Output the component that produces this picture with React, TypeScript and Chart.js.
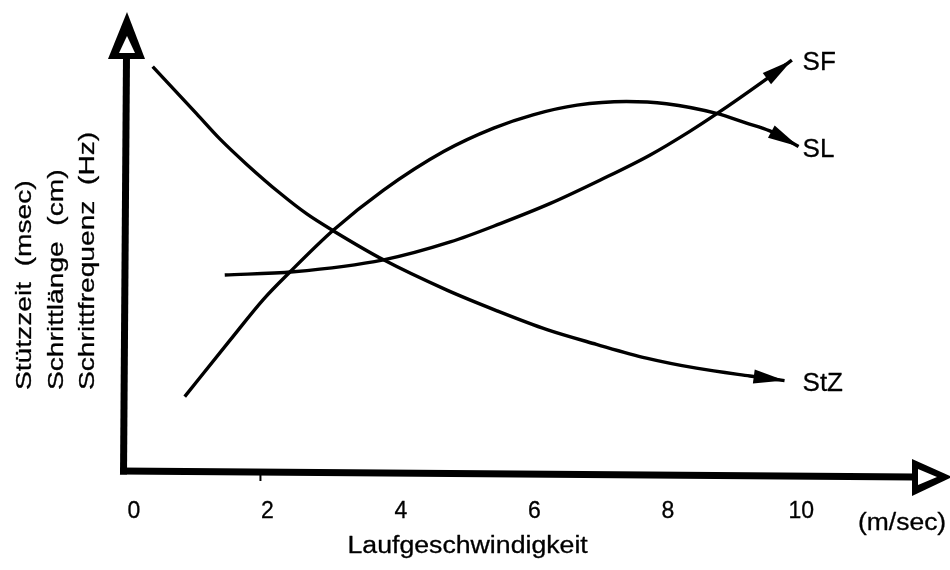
import React, { useEffect, useRef } from "react";
import { Chart, registerables } from "chart.js";

Chart.register(...registerables);

// Laufgeschwindigkeit (m/sec) tick values
const xTickValues = [0, 2, 4, 6, 8, 10];

// Stützzeit (StZ)
const stzSpeed = [0.28, 0.94, 1.29, 1.69, 2.19, 2.59, 2.99, 3.74, 4.69, 5.44, 6.19, 6.93, 7.68, 8.43, 9.23, 9.75];
const stzValue = [88.1, 77.8, 72.3, 66.8, 60.5, 56.0, 52.3, 46.0, 39.4, 34.9, 30.8, 27.6, 24.6, 22.4, 20.7, 19.7];

// Schrittlänge (SL)
const slSpeed = [0.76, 1.44, 1.94, 2.34, 2.99, 3.74, 4.64, 5.39, 5.98, 6.64, 7.38, 7.98, 8.73, 9.18, 9.53, 9.96];
const slValue = [16.2, 28.5, 37.4, 43.4, 52.5, 61.2, 69.6, 74.7, 77.6, 79.7, 80.5, 80.0, 77.9, 75.8, 74.1, 70.7];

// Schrittfrequenz (SF)
const sfSpeed = [1.36, 2.39, 3.74, 4.74, 5.49, 6.24, 6.99, 7.73, 8.33, 8.73, 9.43, 9.86];
const sfValue = [42.7, 43.4, 46.0, 49.9, 53.9, 58.3, 63.4, 68.8, 74.0, 77.8, 84.9, 89.5];

const seriesNames = ["StZ", "SL", "SF"];
const yTitleLines = ["Stützzeit  (msec)", "Schrittlänge  (cm)", "Schrittfrequenz  (Hz)"];
const xTitle = "Laufgeschwindigkeit";
const xUnit = "(m/sec)";

const FONT = '"Liberation Sans", Arial, Helvetica, sans-serif';
const TEXT_WEIGHT = 0.3;

function toPoints(xs: number[], ys: number[]) {
  return xs.map((x, i) => ({ x, y: ys[i] }));
}

function fillPolygon(ctx: CanvasRenderingContext2D, pts: number[][], color: string) {
  ctx.beginPath();
  ctx.moveTo(pts[0][0], pts[0][1]);
  for (let i = 1; i < pts.length; i++) ctx.lineTo(pts[i][0], pts[i][1]);
  ctx.closePath();
  ctx.fillStyle = color;
  ctx.fill();
}

// Lettering of the axis titles is set wide: the glyphs are widened along the text direction
function drawText(
  ctx: CanvasRenderingContext2D,
  text: string,
  x: number,
  y: number,
  size: number,
  stretch: number,
  align: CanvasTextAlign,
  baseline: CanvasTextBaseline,
  vertical = false
) {
  ctx.save();
  ctx.translate(x, y);
  if (vertical) ctx.rotate(-Math.PI / 2);
  ctx.scale(stretch, 1);
  ctx.font = `${size}px ${FONT}`;
  ctx.fillStyle = "#000";
  ctx.strokeStyle = "#000";
  ctx.lineWidth = TEXT_WEIGHT;
  ctx.lineJoin = "round";
  ctx.textAlign = align;
  ctx.textBaseline = baseline;
  ctx.fillText(text, 0, 0);
  ctx.strokeText(text, 0, 0);
  ctx.restore();
}

const handDrawnAxes = {
  id: "handDrawnAxes",
  beforeDatasetsDraw(chart: any) {
    const { ctx, chartArea } = chart;
    const { left, top, bottom, right } = chartArea;
    ctx.save();
    ctx.strokeStyle = "#000";
    ctx.lineWidth = 7;
    ctx.lineCap = "butt";

    // vertical axis
    ctx.beginPath();
    ctx.moveTo(left - 0.5, bottom + 3.5);
    ctx.lineTo(left + 2.5, top + 44);
    ctx.stroke();

    // horizontal axis
    ctx.beginPath();
    ctx.moveTo(left - 4, bottom);
    ctx.lineTo(right - 30, bottom + 6);
    ctx.stroke();

    // small tick under the axis near 2 m/sec
    const t2 = chart.scales.x.getPixelForValue(2) - 7;
    ctx.lineWidth = 2;
    ctx.beginPath();
    ctx.moveTo(t2, bottom + 2);
    ctx.lineTo(t2, bottom + 10);
    ctx.stroke();

    // open arrowhead on the vertical axis
    fillPolygon(ctx, [[left + 3, top], [left - 16, top + 47], [left + 21, top + 47]], "#000");
    fillPolygon(ctx, [[left + 3, top + 24], [left - 5, top + 41], [left + 11, top + 41]], "#fff");

    // open arrowhead on the horizontal axis
    fillPolygon(ctx, [[right - 32, bottom - 12], [right - 32, bottom + 25], [right + 8, bottom + 6]], "#000");
    fillPolygon(ctx, [[right - 26, bottom - 2], [right - 26, bottom + 14], [right - 7, bottom + 6]], "#fff");
    ctx.restore();
  },
  afterDatasetsDraw(chart: any) {
    const { ctx } = chart;
    const xScale = chart.scales.x;

    // arrowheads and names at the end of each curve
    chart.data.datasets.forEach((ds: any, i: number) => {
      const pts = chart.getDatasetMeta(i).data;
      const tip = pts[pts.length - 1];
      const prev = pts[pts.length - 2];
      const ang = Math.atan2(tip.y - prev.y, tip.x - prev.x);
      const len = 31;
      const half = 7;
      const bx = tip.x - len * Math.cos(ang);
      const by = tip.y - len * Math.sin(ang);
      const nx = -Math.sin(ang);
      const ny = Math.cos(ang);
      ctx.save();
      fillPolygon(ctx, [[tip.x, tip.y], [bx + nx * half, by + ny * half], [bx - nx * half, by - ny * half]], "#000");
      ctx.restore();
      drawText(ctx, ds.label, xScale.getPixelForValue(10.02), tip.y + 3, 26, 1, "left", "middle");
    });

    // axis titles
    const yBaselines = [31, 63, 94];
    yTitleLines.forEach((t, i) => {
      drawText(ctx, t, yBaselines[i], 390, 22, 1.28, "left", "alphabetic", true);
    });
    drawText(ctx, xTitle, xScale.getPixelForValue(5), 553, 23, 1.16, "center", "alphabetic");
    drawText(ctx, xUnit, 858, 530, 23, 1.15, "left", "alphabetic");
  },
};

export default function App() {
  const canvasRef = useRef<HTMLCanvasElement | null>(null);

  useEffect(() => {
    const canvas = canvasRef.current;
    if (!canvas) return;
    const lineStyle = {
      borderColor: "#000",
      borderWidth: 3.4,
      pointRadius: 0,
      fill: false,
      cubicInterpolationMode: "monotone" as const,
    };
    const chart = new Chart(canvas, {
      type: "line",
      data: {
        datasets: [
          { label: seriesNames[0], data: toPoints(stzSpeed, stzValue), ...lineStyle },
          { label: seriesNames[1], data: toPoints(slSpeed, slValue), ...lineStyle },
          { label: seriesNames[2], data: toPoints(sfSpeed, sfValue), ...lineStyle },
        ],
      },
      options: {
        responsive: false,
        animation: false,
        devicePixelRatio: 1,
        layout: { padding: { top: 12, right: 6, left: 0, bottom: 0 } },
        plugins: {
          legend: { display: false },
          tooltip: { enabled: false },
        },
        scales: {
          x: {
            type: "linear",
            min: -0.15,
            max: 12.14,
            grid: { display: false, drawTicks: false },
            border: { display: false },
            afterBuildTicks: (s: any) => {
              s.ticks = xTickValues.map((v) => ({ value: v }));
            },
            afterFit: (s: any) => {
              s.height = 99;
            },
            ticks: {
              color: "#000",
              padding: 27,
              maxRotation: 0,
              autoSkip: false,
              textStrokeColor: "#000",
              textStrokeWidth: TEXT_WEIGHT,
              font: { family: FONT, size: 23 },
            },
          },
          y: {
            type: "linear",
            min: 0,
            max: 100,
            grid: { display: false, drawTicks: false },
            border: { display: false },
            ticks: { display: false },
            afterFit: (s: any) => {
              s.width = 124;
            },
          },
        },
      },
      plugins: [handDrawnAxes],
    });
    return () => chart.destroy();
  }, []);

  return (
    <div style={{ position: "fixed", left: 0, top: 0, width: 950, height: 570, background: "#fff" }}>
      <canvas ref={canvasRef} width={950} height={570} style={{ display: "block" }} />
    </div>
  );
}
